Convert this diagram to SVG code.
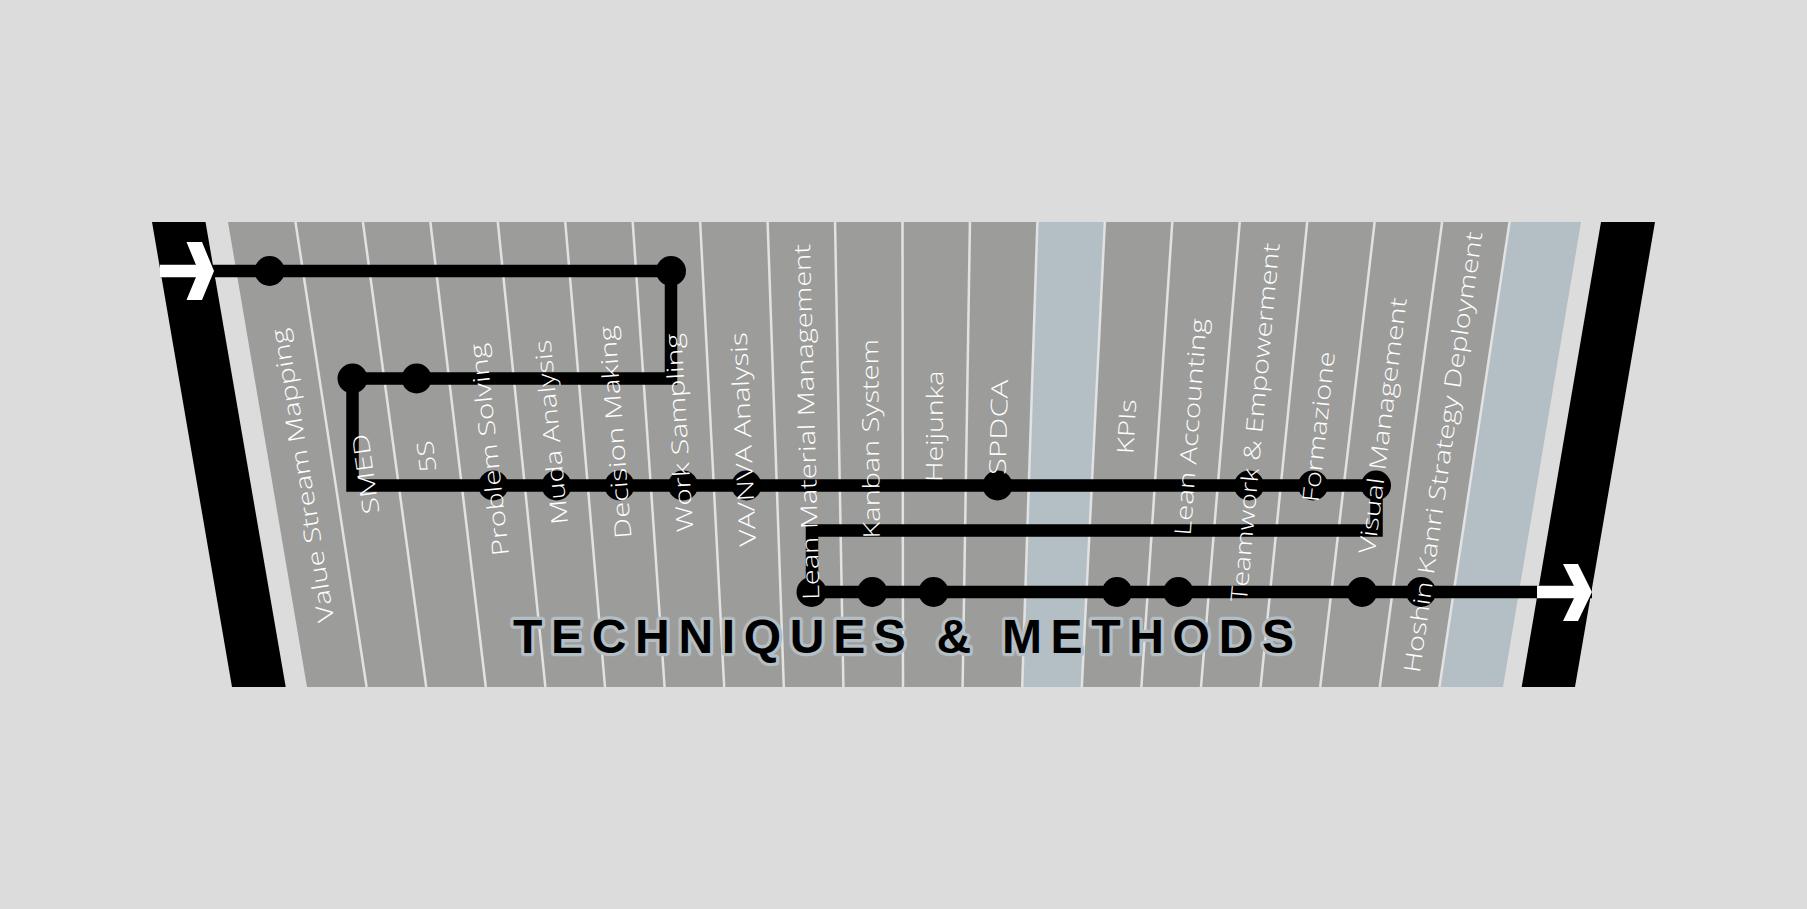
<svg xmlns="http://www.w3.org/2000/svg" width="1807" height="909" viewBox="0 0 1807 909">
<style>
.bg{fill:#dcdcdc}
.strip{fill:#9c9c9a}
.blue{fill:#b4bec5}
.div{stroke:#e2e2e2;stroke-width:2.5;fill:none}
.bar{fill:#000}
.line{fill:none;stroke:#000;stroke-width:12.5;stroke-linejoin:miter;stroke-linecap:butt}
.stop{fill:#000}
.lbl{font-family:"Open Sans","DejaVu Sans",sans-serif;font-weight:300;font-size:23px;fill:#fff}
.title{font-family:"Liberation Sans",Arial,sans-serif;font-weight:bold;font-size:48px;fill:#000;stroke:#b4bec5;stroke-width:6.5;paint-order:stroke fill;stroke-linejoin:round}
.arrow{fill:#fff}
</style>
<rect class="bg" x="0" y="0" width="1807" height="909"/>
<g id="band">
<polygon class="strip" points="228,222 1509.55,222 1439.4,687 307,687"/>
<polygon class="blue" points="1037.4,222 1104.85,222 1081.8,687 1022.2,687"/>
<polygon class="blue" points="1509.55,222 1581,222 1503,687 1439.4,687"/>
<g class="div">
<line x1="295.45" y1="222" x2="366.6" y2="687"/>
<line x1="362.9" y1="222" x2="426.2" y2="687"/>
<line x1="430.35" y1="222" x2="485.8" y2="687"/>
<line x1="497.8" y1="222" x2="545.4" y2="687"/>
<line x1="565.25" y1="222" x2="605" y2="687"/>
<line x1="632.7" y1="222" x2="664.6" y2="687"/>
<line x1="700.15" y1="222" x2="724.2" y2="687"/>
<line x1="767.6" y1="222" x2="783.8" y2="687"/>
<line x1="835.05" y1="222" x2="843.4" y2="687"/>
<line x1="902.5" y1="222" x2="903" y2="687"/>
<line x1="969.95" y1="222" x2="962.6" y2="687"/>
<line x1="1037.4" y1="222" x2="1022.2" y2="687"/>
<line x1="1104.85" y1="222" x2="1081.8" y2="687"/>
<line x1="1172.3" y1="222" x2="1141.4" y2="687"/>
<line x1="1239.75" y1="222" x2="1201" y2="687"/>
<line x1="1307.2" y1="222" x2="1260.6" y2="687"/>
<line x1="1374.65" y1="222" x2="1320.2" y2="687"/>
<line x1="1442.1" y1="222" x2="1379.8" y2="687"/>
<line x1="1509.55" y1="222" x2="1439.4" y2="687"/>
</g>
</g>
<g id="connectors">
<path class="line" d="M160 271 H671 V378.5 H352.5 V485.5 H1376.5 V530.5 H812 V592 H1592"/>
</g>
<g id="bars">
<polygon class="bar" points="152,222 205.5,222 285.7,687 232,687"/>
<polygon class="bar" points="1601,222 1655,222 1575,687 1521.7,687"/>
<rect class="arrow" x="160" y="264.75" width="40" height="12.5"/>
<polygon class="arrow" points="186.5,242 202,242 214,271 202,300 186.5,300 198.5,271"/>
<rect class="arrow" x="1537" y="585.75" width="41" height="12.5"/>
<polygon class="arrow" points="1563,564 1578,564 1592,592 1578,621 1563,621 1577,592"/>
</g>
<g id="n-vsm"><circle class="stop" cx="269.6" cy="271" r="15"/><text class="lbl" transform="translate(326.3,622) rotate(-99.18)" dy="0.35em" textLength="296.8" lengthAdjust="spacingAndGlyphs">Value Stream Mapping</text></g>
<g id="n-smed"><circle class="stop" cx="352.5" cy="378.5" r="15"/><text class="lbl" transform="translate(371.4,514) rotate(-98.23)" dy="0.35em" textLength="80.8" lengthAdjust="spacingAndGlyphs">SMED</text></g>
<g id="n-5s"><circle class="stop" cx="416.6" cy="378.5" r="15"/><text class="lbl" transform="translate(428.5,472) rotate(-97.28)" dy="0.35em" textLength="31.3" lengthAdjust="spacingAndGlyphs">5S</text></g>
<g id="n-ps"><circle class="stop" cx="493.3" cy="485.5" r="15"/><text class="lbl" transform="translate(501.1,556) rotate(-96.33)" dy="0.35em" textLength="213.8" lengthAdjust="spacingAndGlyphs">Problem Solving</text></g>
<g id="n-muda"><circle class="stop" cx="556.5" cy="485.5" r="15"/><text class="lbl" transform="translate(559.9,524.5) rotate(-95.37)" dy="0.35em" textLength="185.3" lengthAdjust="spacingAndGlyphs">Muda Analysis</text></g>
<g id="n-dm"><circle class="stop" cx="619.5" cy="485.5" r="15"/><text class="lbl" transform="translate(623.35,538.5) rotate(-94.41)" dy="0.35em" textLength="213.1" lengthAdjust="spacingAndGlyphs">Decision Making</text></g>
<g id="n-ws"><circle class="stop" cx="671" cy="271" r="15"/><circle class="stop" cx="683" cy="485.5" r="15"/><text class="lbl" transform="translate(685.1,532) rotate(-93.45)" dy="0.35em" textLength="198.9" lengthAdjust="spacingAndGlyphs">Work Sampling</text></g>
<g id="n-va"><circle class="stop" cx="746.5" cy="485.5" r="15"/><text class="lbl" transform="translate(747.9,546.3) rotate(-92.48)" dy="0.35em" textLength="214.2" lengthAdjust="spacingAndGlyphs">VA/NVA Analysis</text></g>
<g id="n-lmm"><circle class="stop" cx="811.5" cy="592" r="15"/><text class="lbl" transform="translate(811.3,600) rotate(-91.52)" dy="0.35em" textLength="356" lengthAdjust="spacingAndGlyphs">Lean Material Management</text></g>
<g id="n-kanban"><circle class="stop" cx="872.3" cy="592" r="15"/><text class="lbl" transform="translate(871.8,538.5) rotate(-90.55)" dy="0.35em" textLength="199.5" lengthAdjust="spacingAndGlyphs">Kanban System</text></g>
<g id="n-heijunka"><circle class="stop" cx="933.5" cy="592" r="15"/><text class="lbl" transform="translate(934.3,482) rotate(-89.58)" dy="0.35em" textLength="111.5" lengthAdjust="spacingAndGlyphs">Heijunka</text></g>
<g id="n-spdca"><circle class="stop" cx="997.5" cy="485.5" r="15"/><text class="lbl" transform="translate(997.5,475) rotate(-88.61)" dy="0.35em" textLength="95.5" lengthAdjust="spacingAndGlyphs">SPDCA</text></g>
<g id="n-kpis"><circle class="stop" cx="1117" cy="592" r="15"/><text class="lbl" transform="translate(1125.1,454) rotate(-86.68)" dy="0.35em" textLength="54.8" lengthAdjust="spacingAndGlyphs">KPIs</text></g>
<g id="n-la"><circle class="stop" cx="1178.3" cy="592" r="15"/><text class="lbl" transform="translate(1182.5,535.5) rotate(-85.72)" dy="0.35em" textLength="217.6" lengthAdjust="spacingAndGlyphs">Lean Accounting</text></g>
<g id="n-te"><circle class="stop" cx="1249" cy="485.5" r="15"/><text class="lbl" transform="translate(1238.6,601.6) rotate(-84.76)" dy="0.35em" textLength="360.1" lengthAdjust="spacingAndGlyphs">Teamwork &amp; Empowerment</text></g>
<g id="n-form"><circle class="stop" cx="1313" cy="485.5" r="15"/><text class="lbl" transform="translate(1310.5,502) rotate(-83.8)" dy="0.35em" textLength="151.4" lengthAdjust="spacingAndGlyphs">Formazione</text></g>
<g id="n-vm"><circle class="stop" cx="1376" cy="485.5" r="15"/><circle class="stop" cx="1362" cy="592" r="15"/><text class="lbl" transform="translate(1366.7,553.5) rotate(-82.85)" dy="0.35em" textLength="257.9" lengthAdjust="spacingAndGlyphs">Visual Management</text></g>
<g id="n-hoshin"><circle class="stop" cx="1421" cy="592" r="15"/><text class="lbl" transform="translate(1411.7,672.3) rotate(-81.9)" dy="0.35em" textLength="445.2" lengthAdjust="spacingAndGlyphs">Hoshin Kanri Strategy Deployment</text></g>
<text id="title" class="title" x="513" y="653" textLength="781" lengthAdjust="spacing">TECHNIQUES &amp; METHODS</text>
</svg>
